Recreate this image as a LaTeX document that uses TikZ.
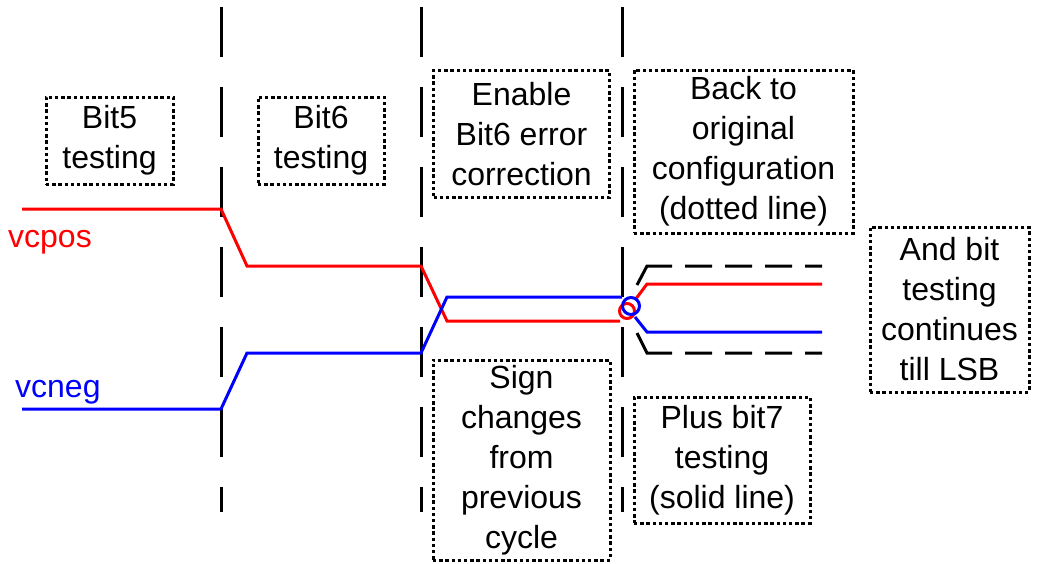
\documentclass[tikz,border=0pt]{standalone}
\usepackage{fontspec}
\setmainfont{Liberation Sans}
\usepackage[dvipsnames]{xcolor}
\usetikzlibrary{positioning}

\begin{document}
\begin{tikzpicture}[
          x=1pt, y=-1pt,
          notebox/.style={draw, line width=3pt, dash pattern=on 3.4pt off 2.8pt,
            align=center, inner sep=0pt, font=\fontsize{32}{40}\selectfont},
          sig/.style={line width=3pt},
          slotline/.style={line width=3pt, dash pattern=on 50pt off 30pt},
          refline/.style={line width=3pt},
          lbl/.style={anchor=base west, inner sep=0pt, font=\fontsize{32}{38}\selectfont}
        ]
        \useasboundingbox (0,0) rectangle (1040,563);
        % time slot separators
        \foreach\t in {221,421,622}{\draw[slotline] (\t,7) -- (\t,512);}
        % signals
        \node[lbl, red] (vcpos) at (8,247) {vcpos};
        \node[lbl, blue] (vcneg) at (15,397) {vcneg};
        \draw[sig, red] (22,209) -- (221,209) -- (247,266) -- (421,266) -- (447,321) -- (620,321);
        \draw[sig, red] (627,311) circle (7.5);
        \draw[sig, red] (635,300) -- (647,284) -- (822,284);
        \draw[sig, blue] (22,409) -- (221,409) -- (247,353) -- (421,353) -- (447,297) -- (622,297);
        \draw[sig, blue] (631,306) circle (8.5);
        \draw[sig, blue] (635,317) -- (647,332) -- (822,332);
        % original configuration
        \draw[refline, dash pattern=on 46.5pt off 13pt on 27pt off 13pt on 27pt off 13pt on 27pt off 13pt on 27pt off 13pt]
          (637,285) -- (647,266) -- (822,266);
        \draw[refline, dash pattern=on 47.5pt off 13pt on 27pt off 13pt on 27pt off 13pt on 27pt off 13pt on 27pt off 13pt]
          (637,333) -- (647,353) -- (822,353);
        % notes
        \node[notebox, minimum width=127, minimum height=87] (bitfive) at (109.5,140.5) {Bit5\\testing};
        \node[notebox, minimum width=126, minimum height=87] (bitsix) at (321,140.5) {Bit6\\testing};
        \node[notebox, minimum width=176, minimum height=127] (enable) at (521.5,134) {Enable\\Bit6 error\\correction};
        \node[notebox, minimum width=219, minimum height=163] (back) at (743.5,151.5) {Back to\\original\\configuration\\(dotted line)};
        \node[notebox, minimum width=159, minimum height=165] (lsb) at (949.5,309.5) {And bit\\testing\\continues\\till LSB};
        \node[notebox, minimum width=177, minimum height=200] (sign) at (521.5,460) {Sign\\changes\\from\\previous\\cycle};
        \node[notebox, minimum width=176, minimum height=126] (plus) at (722,460) {Plus bit7\\testing\\(solid line)};
      \end{tikzpicture}
\end{document}
